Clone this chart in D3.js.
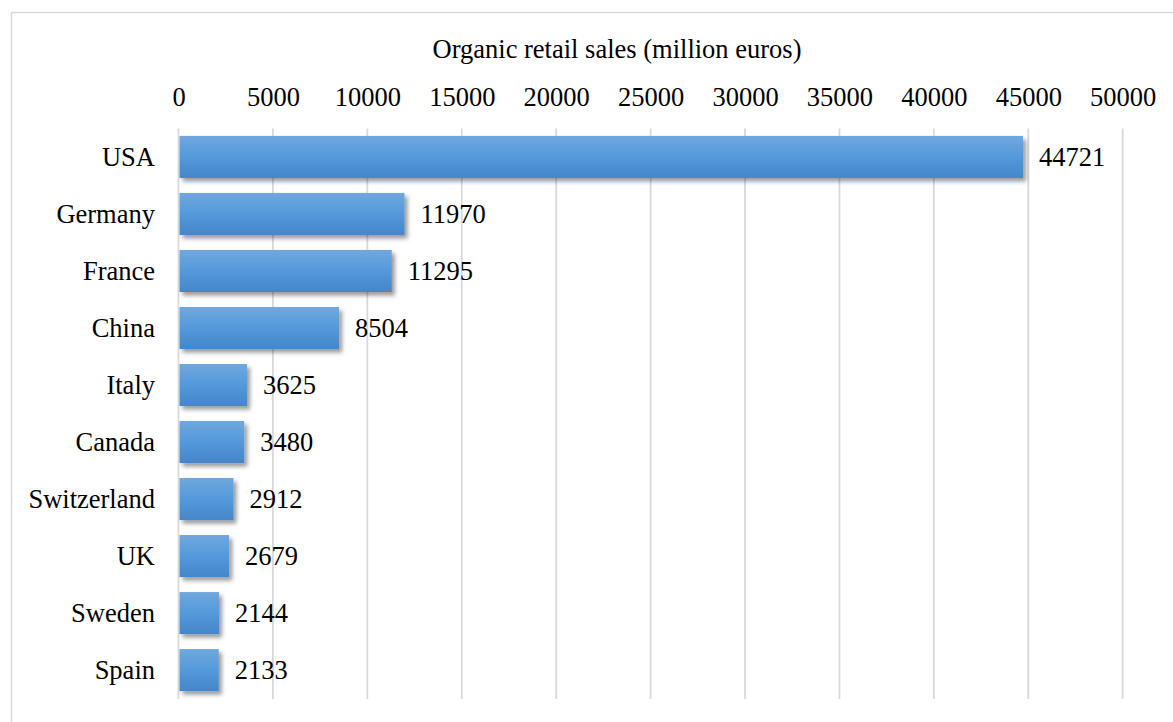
<!DOCTYPE html>
<html>
<head>
<meta charset="utf-8">
<script src="https://cdn.jsdelivr.net/npm/d3@7"></script>
<style>
  html, body { margin: 0; padding: 0; background: #fff; }
  svg { display: block; font-family: "Liberation Serif", "Times New Roman", serif; }
</style>
</head>
<body>
<svg id="chart" width="1173" height="722"></svg>
<script>
// Organic retail sales by country (million euros)
const countries = ["USA", "Germany", "France", "China", "Italy", "Canada", "Switzerland", "UK", "Sweden", "Spain"];
const sales = [44721, 11970, 11295, 8504, 3625, 3480, 2912, 2679, 2144, 2133];
const tickValues = [0, 5000, 10000, 15000, 20000, 25000, 30000, 35000, 40000, 45000, 50000];
const axisTitle = "Organic retail sales (million euros)";

const svg = d3.select("#chart");
const W = 1173, H = 722;
const FS = 26.5;

// chart area frame (extends past the page edge on the right and bottom)
svg.append("rect")
  .attr("x", 11.5).attr("y", 12.5)
  .attr("width", W + 40).attr("height", H + 40)
  .attr("fill", "#fff")
  .attr("stroke", "#d9d9d9")
  .attr("stroke-width", 1.5);

const plot = { left: 178.5, right: 1122.7, top: 128.5, bottom: 698.5 };

const x = d3.scaleLinear().domain([0, 50000]).range([plot.left, plot.right]);
const y = d3.scaleBand().domain(countries).range([plot.top, plot.bottom]).paddingInner(0.263).paddingOuter(0.13);

const defs = svg.append("defs");
const grad = defs.append("linearGradient")
  .attr("id", "barFill").attr("x1", 0).attr("y1", 0).attr("x2", 0).attr("y2", 1);
grad.append("stop").attr("offset", "0%").attr("stop-color", "#70a8dd");
grad.append("stop").attr("offset", "50%").attr("stop-color", "#5499dc");
grad.append("stop").attr("offset", "100%").attr("stop-color", "#4586c8");

const shadow = defs.append("filter").attr("id", "barShadow")
  .attr("x", "-10%").attr("y", "-30%").attr("width", "130%").attr("height", "170%");
shadow.append("feDropShadow")
  .attr("dx", 3).attr("dy", 3.5).attr("stdDeviation", 2.2)
  .attr("flood-color", "#000").attr("flood-opacity", 0.4);

// vertical gridlines
svg.append("g")
  .selectAll("line")
  .data(tickValues)
  .join("line")
  .attr("x1", d => x(d)).attr("x2", d => x(d))
  .attr("y1", plot.top).attr("y2", plot.bottom + 0.5)
  .attr("stroke", "#d9d9d9")
  .attr("stroke-width", 1.8);

// top axis labels
const axis = d3.axisTop(x).tickValues(tickValues).tickFormat(d3.format("d")).tickSize(0).tickPadding(0);
const gAxis = svg.append("g").attr("transform", `translate(0,${plot.top})`).call(axis);
gAxis.select(".domain").remove();
gAxis.selectAll("text")
  .attr("y", 106 - plot.top)
  .attr("dy", 0)
  .attr("font-family", "Liberation Serif, Times New Roman, serif")
  .attr("font-size", FS)
  .attr("fill", "#000");

// axis title
svg.append("text")
  .attr("x", 617).attr("y", 58)
  .attr("text-anchor", "middle")
  .attr("font-size", FS)
  .attr("fill", "#000")
  .text(axisTitle);

// bars
const rows = countries.map((c, i) => ({ country: c, value: sales[i] }));
svg.append("g")
  .selectAll("rect")
  .data(rows)
  .join("rect")
  .attr("x", x(0) + 1)
  .attr("y", d => y(d.country))
  .attr("width", d => x(d.value) - x(0) - 1)
  .attr("height", y.bandwidth())
  .attr("fill", "url(#barFill)")
  .attr("filter", "url(#barShadow)");

// category labels
const gCat = d3.axisLeft(y).tickSize(0).tickPadding(0);
const gc = svg.append("g").attr("transform", `translate(155,0)`).call(gCat);
gc.select(".domain").remove();
gc.selectAll("text")
  .attr("dy", "0.35em")
  .attr("font-family", "Liberation Serif, Times New Roman, serif")
  .attr("font-size", FS)
  .attr("fill", "#000");

// value labels
svg.append("g")
  .selectAll("text")
  .data(rows)
  .join("text")
  .attr("x", d => x(d.value) + 16)
  .attr("y", d => y(d.country) + y.bandwidth() / 2)
  .attr("dy", "0.35em")
  .attr("font-size", FS)
  .attr("fill", "#000")
  .text(d => d.value);
</script>
</body>
</html>
